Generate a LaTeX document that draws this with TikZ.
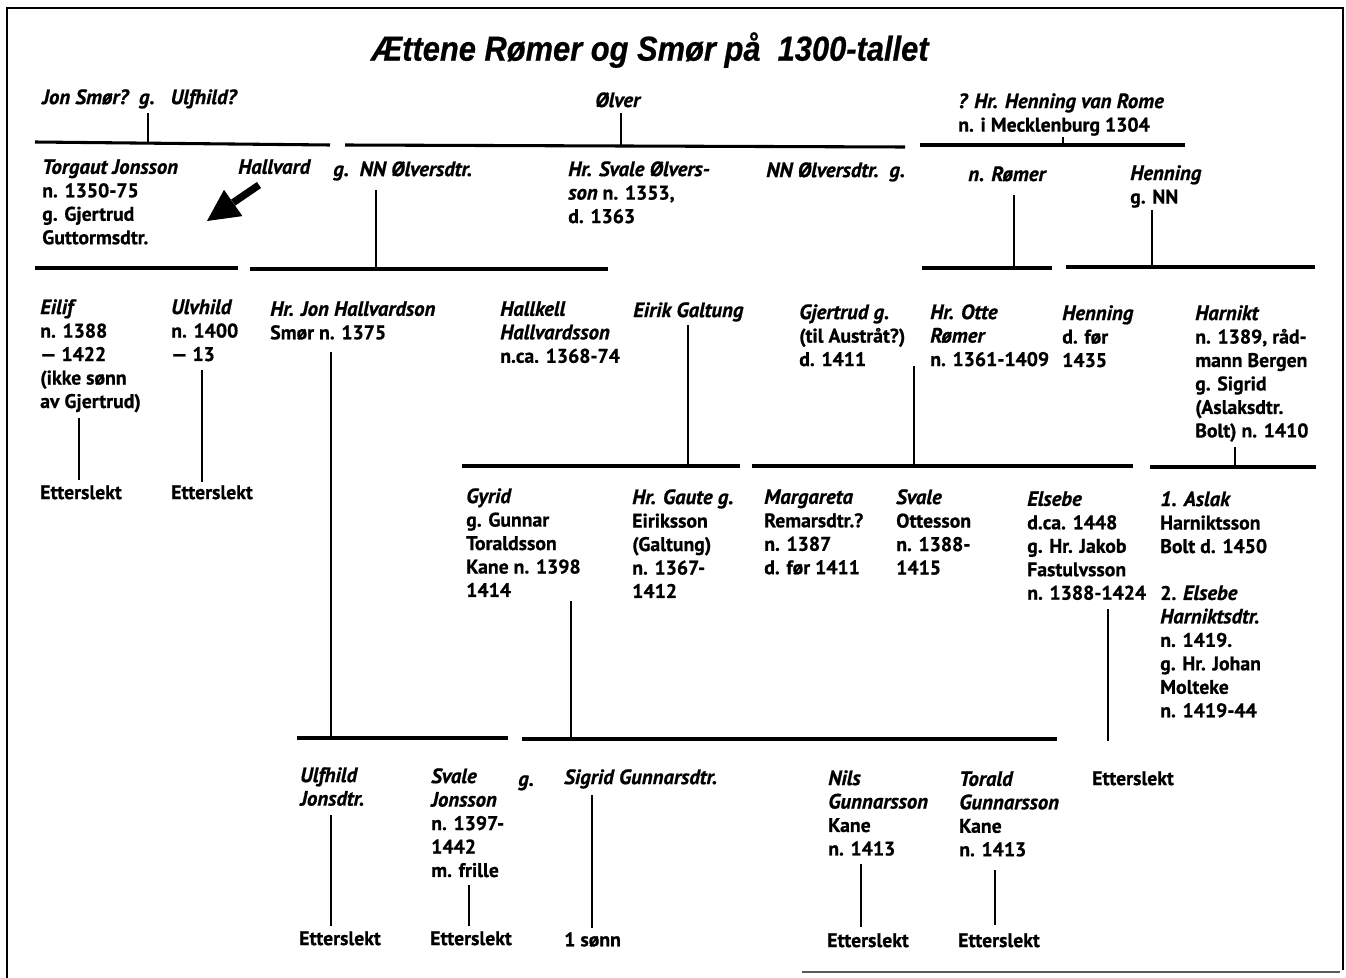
\documentclass[tikz,border=0pt]{standalone}
\usepackage{fontspec}
\setmainfont{PT Sans}[BoldFeatures={FakeBold=0.8},BoldItalicFeatures={FakeBold=0.8}]
\newfontfamily\titlefont[FakeStretch=0.89,BoldItalicFeatures={FakeBold=0.6}]{Liberation Sans}
\newcommand\I[1]{{\fontsize{15.6}{17.6}\selectfont\itshape #1}}
\begin{document}
\begin{tikzpicture}[x=0.75pt,y=-0.75pt,
  txt/.style={anchor=north west,inner sep=0pt,align=left,font=\fontsize{14.8}{17.6}\selectfont\bfseries},
  hbar/.style={line width=2.3pt},
  vline/.style={line width=1.7pt},
  frame/.style={line width=1.5pt}]
\useasboundingbox (0,0) rectangle (1346,978);
% frame
\coordinate (f1) at (7,978); \coordinate (f2) at (7,8); \coordinate (f3) at (1343,8); \coordinate (f4) at (1343,970);
\draw[frame] (f1) -- (f2) -- (f3) -- (f4);
\coordinate (g1) at (802,972); \coordinate (g2) at (1340,972);
\draw[line width=2pt,black!65] (g1) -- (g2);
% title
\node[inner sep=0pt,font=\titlefont\bfseries\itshape\fontsize{26}{30}\selectfont] (title) at (650,50) {Ættene Rømer og Smør på\ \ 1300-tallet};
% row 0
\node[txt] (jon) at (42,89) {\I{Jon Smør?\hspace{8pt}g.\hspace{12pt}Ulfhild?}};
\node[txt] (olver) at (595,92) {\I{Ølver}};
\node[txt] (hen0) at (958,93) {\I{? Hr. Henning van Rome}\\n. i Mecklenburg 1304};
% row 1
\node[txt] (torgaut) at (42,159) {\I{Torgaut Jonsson}\\n. 1350-75\\g. Gjertrud\\Guttormsdtr.};
\node[txt] (hallvard) at (238,159) {\I{Hallvard}};
\node[txt] (nno1) at (333,161) {\I{g.\hspace{8pt}NN Ølversdtr.}};
\node[txt] (svale0) at (568,161) {\I{Hr. Svale Ølvers-}\\\I{son} n. 1353,\\d. 1363};
\node[txt] (nno2) at (766,162) {\I{NN Ølversdtr.\hspace{8pt}g.}};
\node[txt] (romer) at (968,166) {\I{n. Rømer}};
\node[txt] (hen1) at (1130,165) {\I{Henning}\\g. NN};
% row 2
\node[txt] (eilif) at (40,299) {\I{Eilif}\\n. 1388\\— 1422\\(ikke sønn\\av Gjertrud)};
\node[txt] (ulvhild) at (171,299) {\I{Ulvhild}\\n. 1400\\— 13};
\node[txt] (jonh) at (270,301) {\I{Hr. Jon Hallvardson}\\Smør n. 1375};
\node[txt] (hallkell) at (500,301) {\I{Hallkell}\\\I{Hallvardsson}\\n.ca. 1368-74};
\node[txt] (eirik) at (633,302) {\I{Eirik Galtung}};
\node[txt] (gjertrud) at (799,304) {\I{Gjertrud g.}\\(til Austråt?)\\d. 1411};
\node[txt] (otte) at (930,304) {\I{Hr. Otte}\\\I{Rømer}\\n. 1361-1409};
\node[txt] (hen2) at (1062,305) {\I{Henning}\\d. før\\1435};
\node[txt] (harnikt) at (1195,305) {\I{Harnikt}\\n. 1389, råd-\\mann Bergen\\g. Sigrid\\(Aslaksdtr.\\Bolt) n. 1410};
\node[txt] (ett1) at (40,485) {Etterslekt};
\node[txt] (ett2) at (171,485) {Etterslekt};
% row 3
\node[txt] (gyrid) at (466,488) {\I{Gyrid}\\g. Gunnar\\Toraldsson\\Kane n. 1398\\1414};
\node[txt] (gaute) at (632,489) {\I{Hr. Gaute g.}\\Eiriksson\\(Galtung)\\n. 1367-\\1412};
\node[txt] (marg) at (764,489) {\I{Margareta}\\Remarsdtr.?\\n. 1387\\d. før 1411};
\node[txt] (svale1) at (896,489) {\I{Svale}\\Ottesson\\n. 1388-\\1415};
\node[txt] (elsebe) at (1027,491) {\I{Elsebe}\\d.ca. 1448\\g. Hr. Jakob\\Fastulvsson\\n. 1388-1424};
\node[txt] (aslak) at (1160,491) {\I{1. Aslak}\\Harniktsson\\Bolt d. 1450\\[17.6pt]2. \I{Elsebe}\\\I{Harniktsdtr.}\\n. 1419.\\g. Hr. Johan\\Molteke\\n. 1419-44};
\node[txt] (ett3) at (1092,771) {Etterslekt};
% row 4
\node[txt] (ulfhild) at (300,767) {\I{Ulfhild}\\\I{Jonsdtr.}};
\node[txt] (svale2) at (431,768) {\I{Svale}\\\I{Jonsson}\\n. 1397-\\1442\\m. frille};
\node[txt] (g4) at (518,775) {\I{g.}};
\node[txt] (sigrid) at (564,769) {\I{Sigrid Gunnarsdtr.}};
\node[txt] (nils) at (828,770) {\I{Nils}\\\I{Gunnarsson}\\Kane\\n. 1413};
\node[txt] (torald) at (959,771) {\I{Torald}\\\I{Gunnarsson}\\Kane\\n. 1413};
\node[txt] (ett4) at (299,931) {Etterslekt};
\node[txt] (ett5) at (430,931) {Etterslekt};
\node[txt] (sonn) at (564,932) {1 sønn};
\node[txt] (ett6) at (827,933) {Etterslekt};
\node[txt] (ett7) at (958,933) {Etterslekt};
% arrow
\coordinate (at) at (259,185); \coordinate (ab) at (233.2,202.6); \coordinate (atip) at (207,221);
\coordinate (ac1) at (242.4,216.1); \coordinate (ac2) at (224,189.8);
\draw[line width=5.5pt] (at) -- (ab);
\fill (atip) -- (ac1) -- (ac2) -- cycle;
% bars
\coordinate (b1a) at (35,142); \coordinate (b1b) at (330,145);
\coordinate (b2a) at (345,145); \coordinate (b2b) at (905,147);
\coordinate (b3a) at (920,145); \coordinate (b3b) at (1185,145);
\coordinate (b4a) at (35,268); \coordinate (b4b) at (238,268);
\coordinate (b5a) at (250,269); \coordinate (b5b) at (608,269);
\coordinate (b6a) at (922,268); \coordinate (b6b) at (1052,268);
\coordinate (b7a) at (1066,267); \coordinate (b7b) at (1315,267);
\coordinate (b8a) at (462,466); \coordinate (b8b) at (740,466);
\coordinate (b9a) at (752,466); \coordinate (b9b) at (1133,466);
\coordinate (b10a) at (1150,467); \coordinate (b10b) at (1316,467);
\coordinate (b11a) at (297,738); \coordinate (b11b) at (508,738);
\coordinate (b12a) at (522,739); \coordinate (b12b) at (1057,739);
\foreach \n in {1,...,12} \draw[hbar] (b\n a) -- (b\n b);
% verticals
\coordinate (v1a) at (148,113); \coordinate (v1b) at (148,143);
\coordinate (v2a) at (621,113); \coordinate (v2b) at (621,146);
\coordinate (v3a) at (1063,137); \coordinate (v3b) at (1063,145);
\coordinate (v4a) at (376,190); \coordinate (v4b) at (376,269);
\coordinate (v5a) at (1014,195); \coordinate (v5b) at (1014,268);
\coordinate (v6a) at (1152,210); \coordinate (v6b) at (1152,267);
\coordinate (v7a) at (79,418); \coordinate (v7b) at (79,480);
\coordinate (v8a) at (202,370); \coordinate (v8b) at (202,482);
\coordinate (v9a) at (331,352); \coordinate (v9b) at (331,738);
\coordinate (v10a) at (688,325); \coordinate (v10b) at (688,466);
\coordinate (v11a) at (914,366); \coordinate (v11b) at (914,466);
\coordinate (v12a) at (1235,447); \coordinate (v12b) at (1235,467);
\coordinate (v13a) at (571,601); \coordinate (v13b) at (571,738);
\coordinate (v14a) at (1108,609); \coordinate (v14b) at (1108,741);
\coordinate (v15a) at (331,815); \coordinate (v15b) at (331,926);
\coordinate (v16a) at (469,885); \coordinate (v16b) at (469,926);
\coordinate (v17a) at (592,795); \coordinate (v17b) at (592,928);
\coordinate (v18a) at (861,864); \coordinate (v18b) at (861,927);
\coordinate (v19a) at (995,870); \coordinate (v19b) at (995,925);
\foreach \n in {1,...,19} \draw[vline] (v\n a) -- (v\n b);
\end{tikzpicture}
\end{document}
